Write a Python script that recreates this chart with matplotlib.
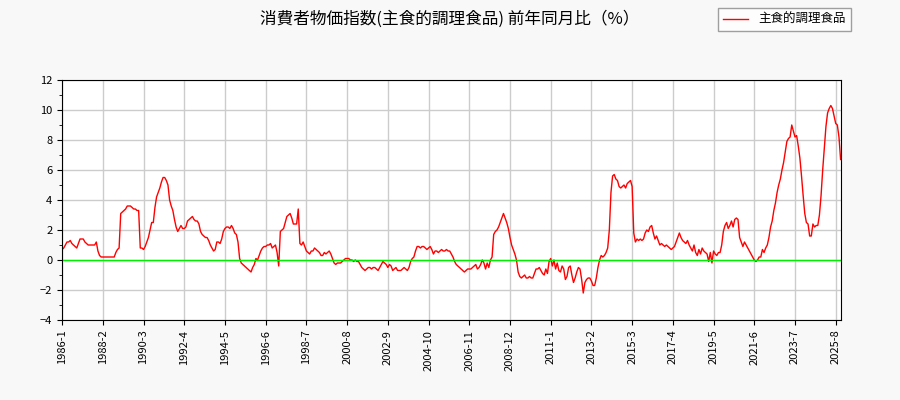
import numpy as np
import matplotlib
matplotlib.use("Agg")
import matplotlib.pyplot as plt

plt.rcParams['font.family'] = ['Noto Sans CJK JP', 'DejaVu Sans']

title = "消費者物価指数(主食的調理食品) 前年同月比（%）"
series_name = "主食的調理食品"

# 月次データ (1986-1 〜 2025-11)
yearly = {
    1986: [0.7, 0.8, 1.0, 1.2, 1.2, 1.3, 1.1, 1.0, 0.9, 0.8, 1.1, 1.4],
    1987: [1.4, 1.4, 1.2, 1.1, 1.0, 1.0, 1.0, 1.0, 1.0, 1.2, 0.6, 0.3],
    1988: [0.2, 0.2, 0.2, 0.2, 0.2, 0.2, 0.2, 0.2, 0.2, 0.5, 0.7, 0.8],
    1989: [3.1, 3.2, 3.3, 3.4, 3.6, 3.6, 3.6, 3.5, 3.4, 3.4, 3.3, 3.3],
    1990: [0.8, 0.8, 0.7, 0.9, 1.2, 1.5, 2.0, 2.5, 2.5, 3.5, 4.2, 4.5],
    1991: [4.8, 5.2, 5.5, 5.5, 5.3, 5.0, 4.0, 3.6, 3.3, 2.7, 2.2, 1.9],
    1992: [2.1, 2.3, 2.1, 2.1, 2.2, 2.6, 2.7, 2.8, 2.9, 2.7, 2.6, 2.6],
    1993: [2.4, 1.9, 1.7, 1.6, 1.5, 1.5, 1.3, 1.0, 0.8, 0.6, 0.7, 1.2],
    1994: [1.2, 1.1, 1.4, 1.9, 2.1, 2.2, 2.2, 2.1, 2.3, 2.1, 1.8, 1.7],
    1995: [1.2, 0.1, -0.2, -0.3, -0.4, -0.5, -0.6, -0.7, -0.8, -0.5, -0.3, 0.1],
    1996: [0.0, 0.3, 0.6, 0.8, 0.9, 0.9, 1.0, 1.0, 1.1, 0.8, 0.9, 1.0],
    1997: [0.5, -0.4, 1.9, 2.0, 2.1, 2.5, 2.9, 3.0, 3.1, 2.8, 2.4, 2.4],
    1998: [2.4, 3.4, 1.1, 1.0, 1.2, 0.9, 0.6, 0.5, 0.4, 0.6, 0.6, 0.8],
    1999: [0.7, 0.6, 0.5, 0.3, 0.3, 0.5, 0.4, 0.5, 0.6, 0.4, 0.1, -0.2],
    2000: [-0.3, -0.2, -0.2, -0.2, -0.1, 0.0, 0.1, 0.1, 0.1, 0.0, 0.0, -0.1],
    2001: [0.0, -0.1, -0.1, -0.3, -0.5, -0.6, -0.7, -0.6, -0.5, -0.5, -0.6, -0.5],
    2002: [-0.5, -0.6, -0.7, -0.5, -0.3, -0.1, -0.2, -0.3, -0.5, -0.3, -0.4, -0.7],
    2003: [-0.6, -0.5, -0.7, -0.7, -0.7, -0.6, -0.5, -0.6, -0.7, -0.5, -0.1, 0.1],
    2004: [0.2, 0.6, 0.9, 0.9, 0.8, 0.9, 0.9, 0.8, 0.7, 0.8, 0.9, 0.7],
    2005: [0.4, 0.6, 0.6, 0.5, 0.6, 0.7, 0.6, 0.6, 0.7, 0.6, 0.6, 0.4],
    2006: [0.2, -0.1, -0.3, -0.4, -0.5, -0.6, -0.7, -0.8, -0.7, -0.6, -0.6, -0.6],
    2007: [-0.5, -0.4, -0.3, -0.6, -0.5, -0.3, 0.0, -0.2, -0.6, -0.2, -0.5, 0.0],
    2008: [0.2, 1.7, 1.9, 2.0, 2.2, 2.5, 2.8, 3.1, 2.8, 2.5, 2.1, 1.5],
    2009: [1.0, 0.7, 0.4, 0.0, -0.8, -1.1, -1.2, -1.1, -1.0, -1.2, -1.2, -1.1],
    2010: [-1.2, -1.2, -0.9, -0.6, -0.6, -0.5, -0.7, -0.9, -1.0, -0.6, -0.9, -0.1],
    2011: [0.1, -0.4, 0.0, -0.6, -0.2, -0.7, -0.8, -0.4, -0.6, -1.3, -1.1, -0.5],
    2012: [-0.4, -1.0, -1.5, -1.2, -0.8, -0.5, -0.6, -1.3, -2.2, -1.5, -1.3, -1.2],
    2013: [-1.2, -1.4, -1.7, -1.7, -1.2, -0.5, 0.0, 0.3, 0.2, 0.3, 0.5, 0.8],
    2014: [2.0, 4.5, 5.6, 5.7, 5.4, 5.3, 4.9, 4.8, 4.9, 5.0, 4.8, 5.1],
    2015: [5.2, 5.3, 4.9, 1.8, 1.2, 1.4, 1.3, 1.4, 1.3, 1.4, 1.8, 2.0],
    2016: [1.9, 2.2, 2.3, 1.8, 1.4, 1.6, 1.3, 1.0, 1.1, 1.0, 0.9, 1.0],
    2017: [0.9, 0.8, 0.7, 0.8, 0.9, 1.2, 1.5, 1.8, 1.5, 1.3, 1.2, 1.1],
    2018: [1.3, 1.0, 0.8, 0.6, 1.0, 0.5, 0.3, 0.7, 0.4, 0.8, 0.6, 0.5],
    2019: [0.4, -0.1, 0.5, -0.2, 0.6, 0.4, 0.3, 0.5, 0.5, 1.0, 1.9, 2.3],
    2020: [2.5, 2.1, 2.3, 2.6, 2.2, 2.7, 2.8, 2.7, 1.5, 1.2, 0.9, 1.2],
    2021: [1.0, 0.8, 0.6, 0.4, 0.2, 0.0, -0.1, 0.0, 0.2, 0.2, 0.7, 0.5],
    2022: [0.8, 1.0, 1.5, 2.2, 2.6, 3.3, 3.8, 4.5, 5.0, 5.4, 6.0, 6.5],
    2023: [7.2, 7.9, 8.1, 8.2, 9.0, 8.6, 8.2, 8.3, 7.6, 6.8, 5.6, 4.3],
    2024: [3.1, 2.5, 2.4, 1.6, 1.6, 2.4, 2.2, 2.3, 2.3, 3.0, 4.3, 6.0],
    2025: [7.5, 8.9, 9.8, 10.1, 10.3, 10.1, 9.6, 9.1, 9.0, 8.2, 6.7],
}

values = []
labels = []
for y in sorted(yearly):
    for m, v in enumerate(yearly[y]):
        values.append(v)
        labels.append(f"{y}-{m + 1}")
x = np.arange(len(values))

fig = plt.figure(figsize=(9, 4), dpi=100, facecolor="#f8f8f8")
ax = fig.add_axes([0.069, 0.2, 0.865, 0.6])
ax.set_facecolor("white")

ax.plot(x, values, color="red", lw=1, label=series_name)
ax.axhline(0, color="#00ee00", lw=1)

ax.set_xlim(0, len(values) - 1)
ax.set_ylim(-4, 12)
ax.set_yticks(range(-4, 13, 2))
ax.set_yticks(range(-4, 13, 1), minor=True)
tick_idx = list(range(0, len(values), 25))
ax.set_xticks(tick_idx)
ax.set_xticklabels([labels[i] for i in tick_idx], rotation=90, fontsize=8)
ax.tick_params(axis="y", labelsize=8)
ax.grid(True, color="#cccccc", lw=1)
ax.set_axisbelow(True)
for s in ax.spines.values():
    s.set_color("black")

fig.suptitle(title, x=0.5, y=0.975, fontsize=12)
fig.legend(loc="upper right", bbox_to_anchor=(0.952, 0.995), fontsize=9,
           frameon=True, fancybox=False, edgecolor="#888888")

fig.savefig("out.png", dpi=100, facecolor=fig.get_facecolor())
